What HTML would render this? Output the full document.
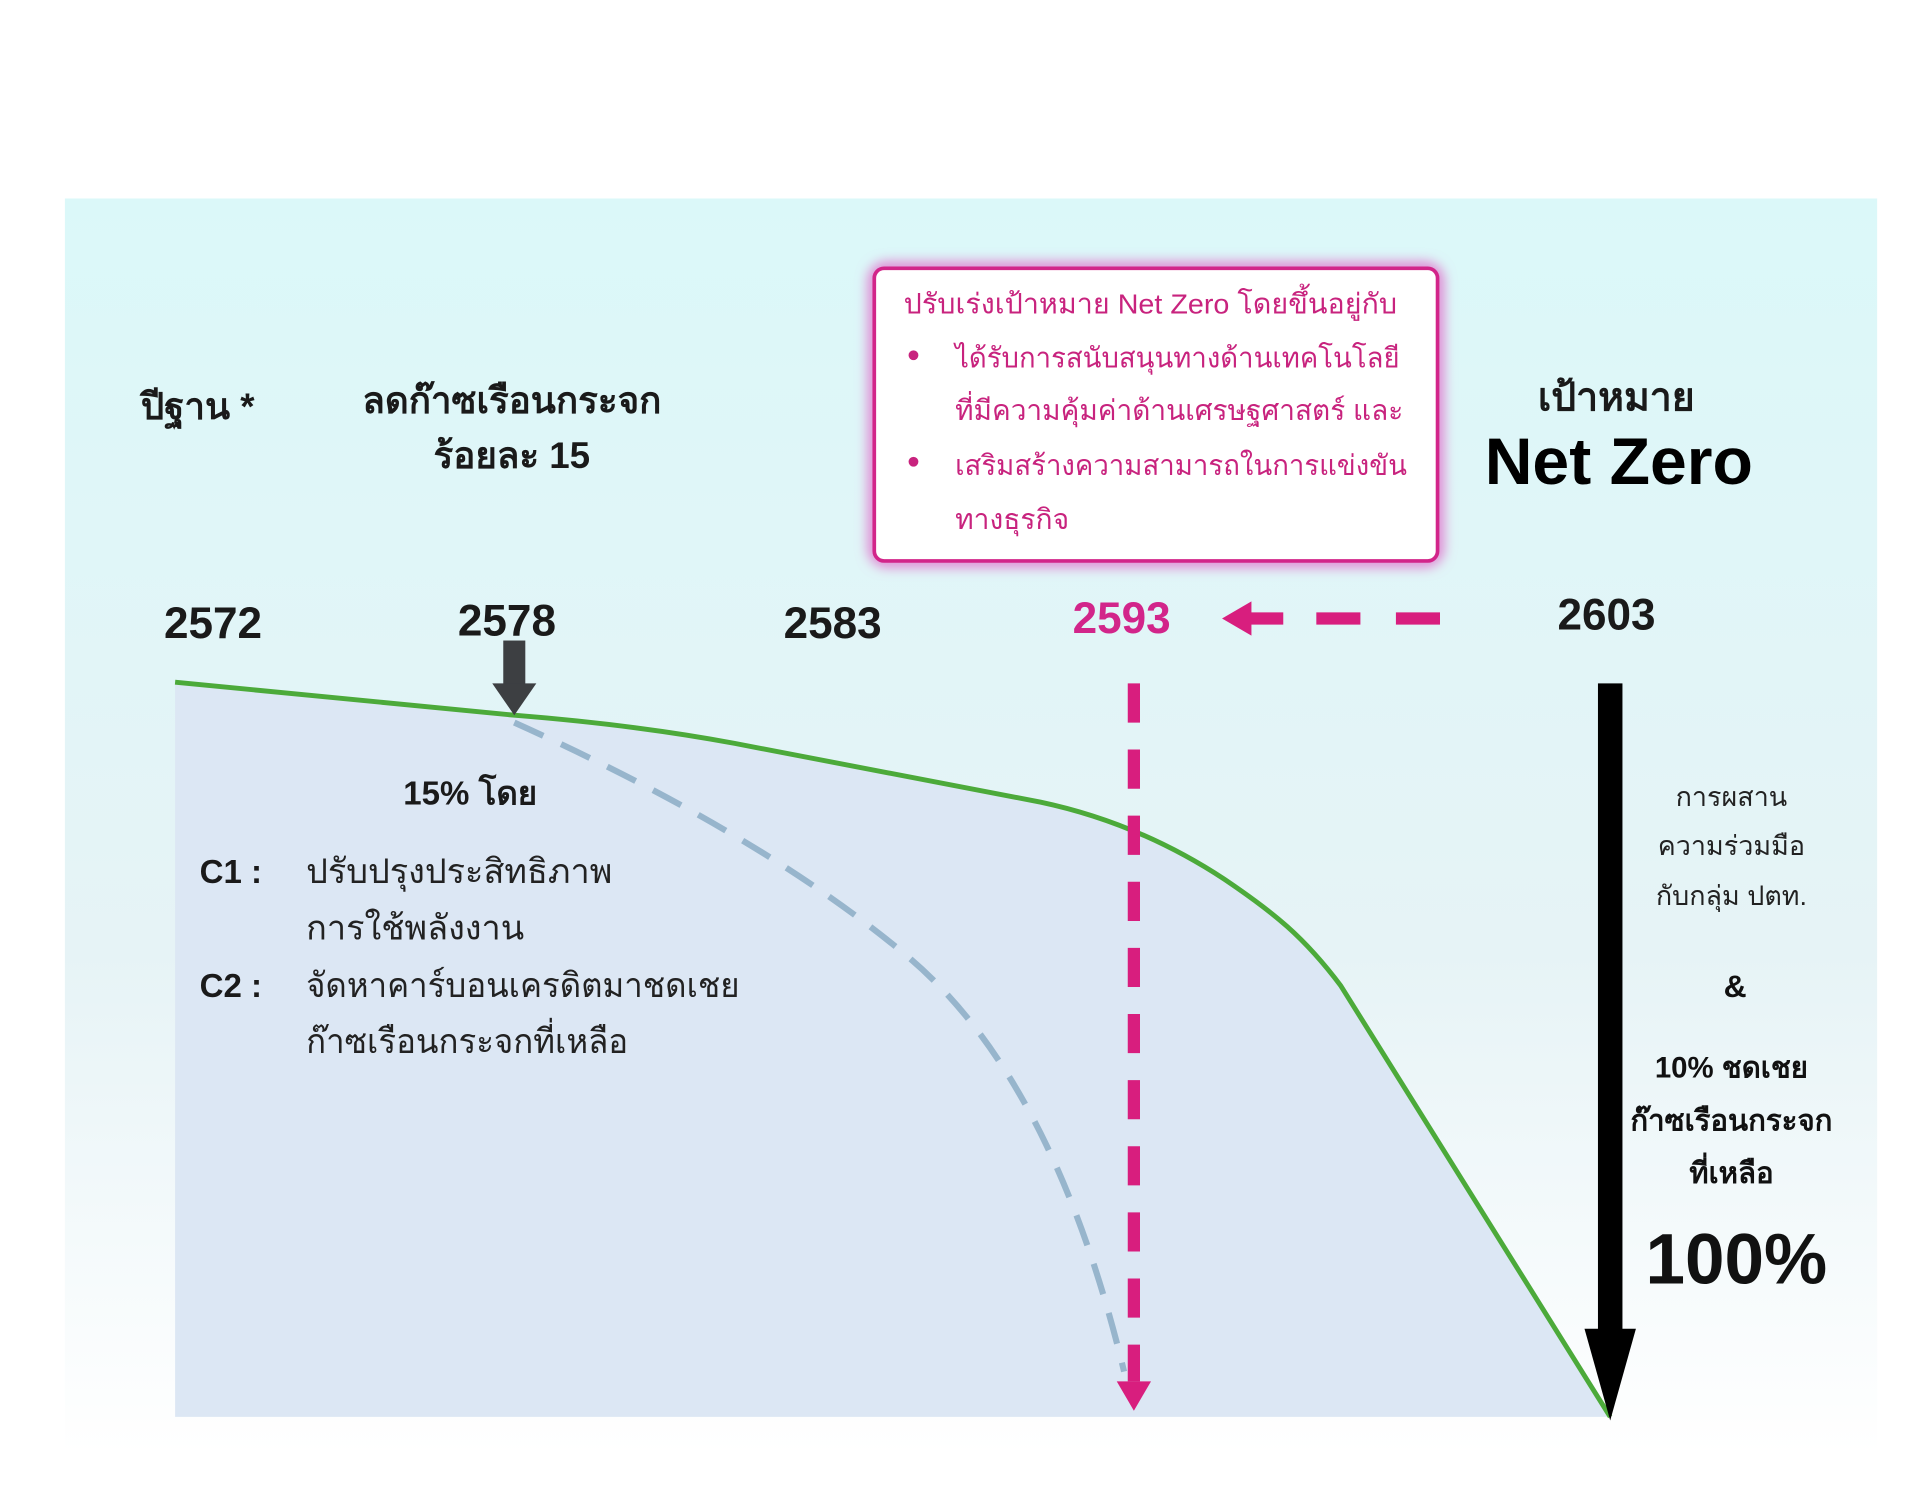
<!DOCTYPE html>
<html><head><meta charset="utf-8">
<style>
html,body{margin:0;padding:0;background:#fff;width:1920px;height:1488px;overflow:hidden}
svg{display:block}
text{font-family:"Liberation Sans","DejaVu Sans",sans-serif}
</style></head>
<body>
<svg width="1920" height="1488" viewBox="0 0 1568 1215" xmlns="http://www.w3.org/2000/svg">
<defs>
<linearGradient id="bg" x1="0" y1="0" x2="0" y2="1">
<stop offset="0" stop-color="#dbf8f9"/>
<stop offset="0.6" stop-color="#e6f3f6"/>
<stop offset="1" stop-color="#ffffff"/>
</linearGradient>
<filter id="glow" x="-10%" y="-10%" width="120%" height="120%"><feGaussianBlur stdDeviation="5"/></filter>
</defs>
<rect x="0" y="0" width="1568" height="1215" fill="#fff"/>
<rect x="53" y="162" width="1480" height="1025" fill="url(#bg)"/>
<path d="M143,557 L420,584 Q520,592 600,607 L850,655 Q930,672 1000,718 C1040,745 1065,765 1095,805 L1315,1157 L143,1157 Z" fill="#dce7f4"/>
<path d="M143,557 L420,584 Q520,592 600,607 L850,655 Q930,672 1000,718 C1040,745 1065,765 1095,805 L1315,1157" fill="none" stroke="#4caa3a" stroke-width="4"/>
<path d="M420,590 Q620,680 740,780 Q860,880 918,1120" fill="none" stroke="#97b5cc" stroke-width="5" stroke-dasharray="26,16"/>
<line x1="926" y1="558" x2="926" y2="1128" stroke="#d81e7e" stroke-width="10" stroke-dasharray="32,22"/>
<polygon points="912,1128 940,1128 926,1152" fill="#d81e7e"/>
<rect x="1140" y="500" width="36" height="10" fill="#d81e7e"/>
<rect x="1075" y="500" width="36" height="10" fill="#d81e7e"/>
<rect x="1020" y="500" width="28" height="10" fill="#d81e7e"/>
<polygon points="998,505 1022,491 1022,519" fill="#d81e7e"/>
<rect x="1305" y="558" width="20" height="530" fill="#000"/>
<polygon points="1294,1085 1336,1085 1315,1160" fill="#000"/>
<rect x="411" y="523" width="18" height="38" fill="#3d3f42"/>
<polygon points="402,558 438,558 420,584" fill="#3d3f42"/>
<rect x="714" y="219" width="460" height="239" rx="10" fill="none" stroke="#e07ccf" stroke-width="10" filter="url(#glow)"/>
<rect x="714" y="219" width="460" height="239" rx="8" fill="#fff" stroke="#d2258a" stroke-width="3"/>
<g fill="#c8237e" font-size="23">
<text x="738" y="256" textLength="403" lengthAdjust="spacingAndGlyphs">ปรับเร่งเป้าหมาย Net Zero โดยขึ้นอยู่กับ</text>
<circle cx="746" cy="290" r="4"/>
<text x="780" y="300" textLength="363" lengthAdjust="spacingAndGlyphs">ได้รับการสนับสนุนทางด้านเทคโนโลยี</text>
<text x="780" y="343" textLength="366" lengthAdjust="spacingAndGlyphs">ที่มีความคุ้มค่าด้านเศรษฐศาสตร์ และ</text>
<circle cx="746" cy="377" r="4"/>
<text x="780" y="388" textLength="369" lengthAdjust="spacingAndGlyphs">เสริมสร้างความสามารถในการแข่งขัน</text>
<text x="780" y="432">ทางธุรกิจ</text>
</g>
<g fill="#1a1a1a" font-weight="bold">
<text x="115" y="342" font-size="30">ปีฐาน *</text>
<text x="418" y="337" font-size="30" text-anchor="middle">ลดก๊าซเรือนกระจก</text>
<text x="418" y="382" font-size="30" text-anchor="middle">ร้อยละ 15</text>
<text x="1320" y="335" font-size="32" text-anchor="middle">เป้าหมาย</text>
<text x="1322" y="395" font-size="54" text-anchor="middle" fill="#000">Net Zero</text>
<text x="174" y="521" font-size="36" text-anchor="middle">2572</text>
<text x="414" y="519" font-size="36" text-anchor="middle">2578</text>
<text x="680" y="521" font-size="36" text-anchor="middle">2583</text>
<text x="916" y="517" font-size="36" text-anchor="middle" fill="#d2258a">2593</text>
<text x="1312" y="514" font-size="36" text-anchor="middle">2603</text>
<text x="384" y="657" font-size="27" text-anchor="middle">15% โดย</text>
<text x="163" y="721" font-size="27">C1 :</text>
<text x="163" y="814" font-size="27">C2 :</text>
</g>
<g fill="#222" font-size="28">
<text x="250" y="721">ปรับปรุงประสิทธิภาพ</text>
<text x="250" y="767">การใช้พลังงาน</text>
<text x="250" y="814" textLength="354" lengthAdjust="spacingAndGlyphs">จัดหาคาร์บอนเครดิตมาชดเชย</text>
<text x="250" y="860" textLength="263" lengthAdjust="spacingAndGlyphs">ก๊าซเรือนกระจกที่เหลือ</text>
</g>
<g fill="#222" font-size="22" text-anchor="middle">
<text x="1414" y="658">การผสาน</text>
<text x="1414" y="698">ความร่วมมือ</text>
<text x="1414" y="739">กับกลุ่ม ปตท.</text>
</g>
<g fill="#111" font-weight="bold" text-anchor="middle">
<text x="1417" y="814" font-size="26">&amp;</text>
<text x="1414" y="880" font-size="24">10% ชดเชย</text>
<text x="1414" y="923" font-size="24">ก๊าซเรือนกระจก</text>
<text x="1414" y="966" font-size="24">ที่เหลือ</text>
<text x="1418" y="1048" font-size="58">100%</text>
</g>
</svg>
</body></html>
